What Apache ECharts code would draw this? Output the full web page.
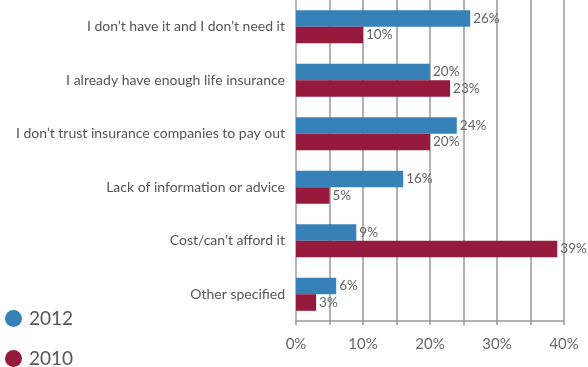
<!DOCTYPE html>
<html><head><meta charset="utf-8">
<script src="https://cdn.jsdelivr.net/npm/echarts@6/dist/echarts.min.js"></script>
<style>html,body{margin:0;padding:0;background:#fff}#c{width:588px;height:367px}</style>
</head><body><div id="c"></div>
<script>
const categories = [
  "I don\u2019t have it and I don\u2019t need it",
  "I already have enough life insurance",
  "I don\u2019t trust insurance companies to pay out",
  "Lack of information or advice",
  "Cost/can\u2019t afford it",
  "Other specified"
];
const values2012 = [26, 20, 24, 16, 9, 6];
const values2010 = [10, 23, 20, 5, 39, 3];
const seriesNames = ["2012", "2010"];
const xTicks = [0, 10, 20, 30, 40];

const FONT = "Lato";
const chart = echarts.init(document.getElementById('c'));
const lbl = {show: true, position: 'right', distance: 3, formatter: '{c}%', color: '#666', fontFamily: FONT, fontSize: 13.5};
const legendBase = {
  orient: 'vertical', left: 5, padding: 0, icon: 'circle',
  itemWidth: 17, itemHeight: 17,
  textStyle: {color: '#555', fontFamily: FONT, fontSize: 19, padding: [0, 0, 0, 2]}
};
chart.setOption({
  animation: false,
  grid: {left: 296, right: 24, top: 0, bottom: 46, containLabel: false},
  legend: [
    Object.assign({}, legendBase, {top: 309, data: [seriesNames[0]]}),
    Object.assign({}, legendBase, {top: 349, data: [seriesNames[1]]})
  ],
  xAxis: {
    type: 'value', min: 0, max: 40, interval: 5,
    axisLine: {show: true, lineStyle: {color: '#999', width: 1.5}},
    axisTick: {show: true, length: 4, lineStyle: {color: '#999', width: 1.5}},
    splitLine: {show: true, lineStyle: {color: '#999', width: 1.5}},
    axisLabel: {
      color: '#666', fontFamily: FONT, fontSize: 15, margin: 16,
      formatter: v => xTicks.includes(v) ? v + '%' : ''
    }
  },
  yAxis: {
    type: 'category', inverse: true, data: categories,
    axisLine: {show: true, lineStyle: {color: '#bbb', width: 1.5}},
    axisTick: {show: false},
    axisLabel: {color: '#555', fontFamily: FONT, fontSize: 14, margin: 11}
  },
  series: [
    {name: seriesNames[0], type: 'bar', data: values2012, barGap: '0%', barCategoryGap: '38%',
     itemStyle: {color: '#3682B8'}, label: lbl},
    {name: seriesNames[1], type: 'bar', data: values2010, barGap: '0%', barCategoryGap: '38%',
     itemStyle: {color: '#951A3E'}, label: lbl}
  ]
});
</script></body></html>
